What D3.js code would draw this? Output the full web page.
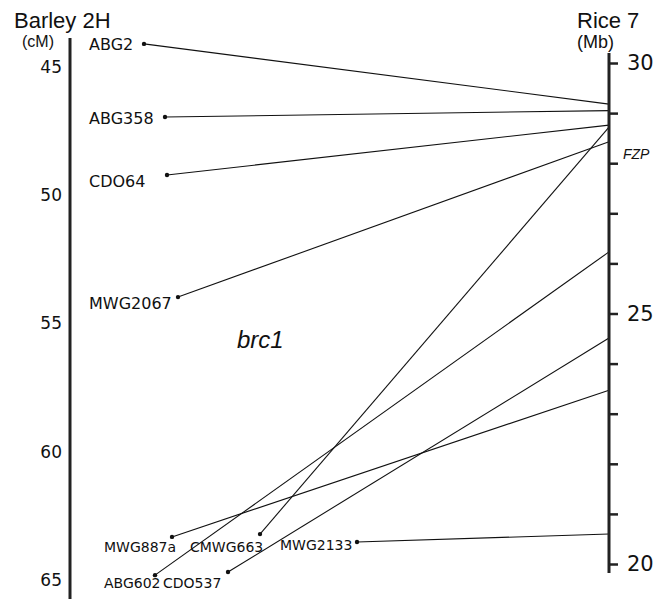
<!DOCTYPE html>
<html lang="en">
<head>
    <meta charset="UTF-8">
    <title>Barley 2H vs Rice 7</title>
    <style>
        body { margin: 0; background: #fff; }
        svg { display: block; }
        .axis text { fill: #111; }
        .mk { font-family: "DejaVu Sans", Verdana, sans-serif; fill: #111; }
        .title { font-family: "Liberation Sans", Arial, sans-serif; fill: #111; }
    </style>
</head>
<body>
    <script src="https://d3js.org/d3.v7.min.js"></script>
    <script>
        const width = 658;
        const height = 599;

        // marker names and their positions on both maps
        const markers = ["ABG2", "ABG358", "CDO64", "MWG2067", "MWG887a", "CMWG663", "MWG2133", "ABG602", "CDO537"];
        const barleyCM = [44.10, 46.95, 49.21, 53.97, 63.32, 63.21, 63.52, 64.81, 64.69];
        const riceMb = [29.18, 29.05, 28.76, 28.43, 23.47, 28.72, 20.60, 26.23, 24.51];

        const barleyTicks = [45, 50, 55, 60, 65];
        const riceTicks = [20, 21, 22, 23, 24, 25, 26, 27, 28, 29, 30];
        const riceLabels = [20, 25, 30];

        // layout only: dot x, label x, label baseline offset from dot, label size
        const dotX = [144, 165, 167, 178, 172, 260, 357, 155, 228];
        const labelX = [89, 89, 89, 89, 104, 190, 280, 104, 163];
        const labelDy = [6, 7, 12, 12, 15, 18, 8, 13, 16];
        const labelSize = [16, 16, 16, 16, 14, 14, 14, 14, 14];

        const leftX = 70;
        const rightX = 609;

        const yL = d3.scaleLinear().domain([45, 65]).range([67, 580]);
        const yR = d3.scaleLinear().domain([20, 30]).range([564, 63]);

        const svg = d3.select("body").append("svg")
            .attr("width", width)
            .attr("height", height);

        // connecting lines
        svg.append("g").selectAll("line")
            .data(markers)
            .enter()
            .append("line")
            .attr("x1", (d, i) => dotX[i])
            .attr("y1", (d, i) => yL(barleyCM[i]))
            .attr("x2", rightX)
            .attr("y2", (d, i) => yR(riceMb[i]))
            .attr("stroke", "#111")
            .attr("stroke-width", 1.1);

        svg.append("g").selectAll("circle")
            .data(markers)
            .enter()
            .append("circle")
            .attr("cx", (d, i) => dotX[i])
            .attr("cy", (d, i) => yL(barleyCM[i]))
            .attr("r", 2.2)
            .attr("fill", "#111");

        svg.append("g").selectAll("text")
            .data(markers)
            .enter()
            .append("text")
            .attr("class", "mk")
            .attr("x", (d, i) => labelX[i])
            .attr("y", (d, i) => yL(barleyCM[i]) + labelDy[i])
            .style("font-size", (d, i) => labelSize[i] + "px")
            .text(d => d);

        // left axis (barley)
        svg.append("line")
            .attr("x1", leftX).attr("x2", leftX)
            .attr("y1", 38).attr("y2", height)
            .attr("stroke", "#222")
            .attr("stroke-width", 3);

        const axL = svg.append("g")
            .attr("class", "axis")
            .attr("transform", `translate(${leftX - 2},0)`)
            .call(d3.axisLeft(yL).tickValues(barleyTicks).tickSize(0).tickPadding(6));
        axL.select(".domain").remove();
        axL.selectAll("text")
            .style("font-family", "'DejaVu Sans', Verdana, sans-serif")
            .style("font-size", "17px");

        // right axis (rice)
        svg.append("line")
            .attr("x1", rightX).attr("x2", rightX)
            .attr("y1", 53).attr("y2", 573)
            .attr("stroke", "#222")
            .attr("stroke-width", 3);

        const axR = svg.append("g")
            .attr("class", "axis")
            .attr("transform", `translate(${rightX},0)`)
            .call(d3.axisRight(yR).tickValues(riceTicks).tickSize(9).tickPadding(9)
                .tickFormat(d => riceLabels.includes(d) ? d : ""));
        axR.select(".domain").remove();
        axR.selectAll(".tick line").attr("stroke", "#222").attr("stroke-width", 2.5);
        axR.selectAll("text")
            .style("font-family", "'DejaVu Sans', Verdana, sans-serif")
            .style("font-size", "21px");

        // titles
        svg.append("text").attr("class", "title")
            .attr("x", 14).attr("y", 28)
            .style("font-size", "22px")
            .text("Barley 2H");
        svg.append("text").attr("class", "title")
            .attr("x", 22).attr("y", 47)
            .style("font-size", "16px")
            .text("(cM)");
        svg.append("text").attr("class", "title")
            .attr("x", 577).attr("y", 28)
            .style("font-size", "22px")
            .text("Rice 7");
        svg.append("text").attr("class", "title")
            .attr("x", 577).attr("y", 48)
            .style("font-size", "18px")
            .text("(Mb)");

        svg.append("text").attr("class", "title")
            .attr("x", 623).attr("y", 159)
            .style("font-size", "14px")
            .style("font-style", "italic")
            .text("FZP");

        svg.append("text").attr("class", "title")
            .attr("x", 237).attr("y", 348)
            .style("font-size", "24px")
            .style("font-style", "italic")
            .text("brc1");
    </script>
</body>
</html>
